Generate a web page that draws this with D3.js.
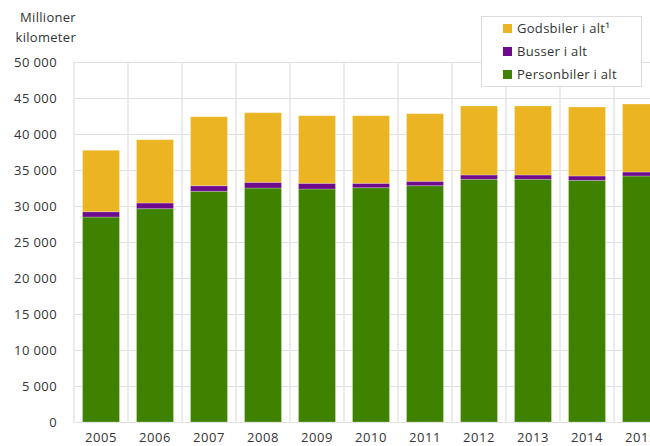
<!DOCTYPE html>
<html>
<head>
<meta charset="utf-8">
<script src="https://cdn.jsdelivr.net/npm/d3@7"></script>
<style>
  body { margin: 0; background: #fff; }
  text { font-family: "Open Sans", sans-serif; fill: #333; }
</style>
</head>
<body>
<div id="chart"></div>
<script>
var width = 650,
    height = 446;

// data (millioner kilometer)
var years = ["2005", "2006", "2007", "2008", "2009", "2010", "2011", "2012", "2013", "2014", "2015"];
var personbiler = [28470, 29630, 32040, 32500, 32360, 32540, 32820, 33710, 33710, 33560, 34170];
var busser = [740, 790, 780, 790, 790, 610, 610, 600, 600, 610, 550];
var godsbiler = [8530, 8790, 9580, 9670, 9390, 9390, 9390, 9580, 9580, 9580, 9450];
var yTicks = [0, 5000, 10000, 15000, 20000, 25000, 30000, 35000, 40000, 45000, 50000];

var seriesNames = ["Personbiler i alt", "Busser i alt", "Godsbiler i alt\u00b9"];
var colors = ["#3e8200", "#6e0a8c", "#ebb422"];

var rows = years.map(function (y, i) {
    return { year: y, p: personbiler[i], b: busser[i], g: godsbiler[i] };
});
var stack = d3.stack().keys(["p", "b", "g"])(rows);

var plotLeft = 74, plotTop = 62, plotBottom = 422;
var pad = 0.315;

var x = d3.scaleBand()
    .domain(years)
    .range([plotLeft, plotLeft + 54 * years.length])
    .paddingInner(pad)
    .paddingOuter(pad / 2);

var y = d3.scaleLinear()
    .domain([0, 50000])
    .range([plotBottom, plotTop]);

var svg = d3.select("#chart").append("svg")
    .attr("width", width)
    .attr("height", height);

var fmt = function (d) { return d3.format(",")(d).replace(/,/g, " "); };

// horizontal grid
svg.append("g").selectAll("line")
    .data(yTicks)
    .enter().append("line")
    .attr("x1", plotLeft).attr("x2", width)
    .attr("y1", function (d) { return Math.round(y(d)) + 0.5; })
    .attr("y2", function (d) { return Math.round(y(d)) + 0.5; })
    .attr("stroke", "#e0e0e0")
    .attr("stroke-width", 1);

// vertical grid at band edges
var step = x.step();
svg.append("g").selectAll("line")
    .data(years)
    .enter().append("line")
    .attr("x1", function (d) { return x(d) - step * pad / 2; })
    .attr("x2", function (d) { return x(d) - step * pad / 2; })
    .attr("y1", plotTop).attr("y2", plotBottom + 1)
    .attr("stroke", "#e6e6e6")
    .attr("stroke-width", 1.6);

// y tick labels
svg.append("g").selectAll("text")
    .data(yTicks)
    .enter().append("text")
    .attr("x", 57)
    .attr("y", function (d) { return y(d); })
    .attr("dy", "0.36em")
    .attr("text-anchor", "end")
    .style("font-size", "13px")
    .style("letter-spacing", "0.4px")
    .text(fmt);

// axis title
var title = svg.append("text")
    .attr("text-anchor", "end")
    .style("font-size", "13px")
    .style("letter-spacing", "0.3px");
title.append("tspan").attr("x", 76).attr("y", 22).text("Millioner");
title.append("tspan").attr("x", 76).attr("y", 42).text("kilometer");

// bars
svg.append("g").selectAll("g")
    .data(stack)
    .enter().append("g")
    .attr("fill", function (d, i) { return colors[i]; })
    .selectAll("rect")
    .data(function (d) { return d; })
    .enter().append("rect")
    .attr("x", function (d) { return x(d.data.year); })
    .attr("width", x.bandwidth())
    .attr("y", function (d) { return y(d[1]); })
    .attr("height", function (d) { return y(d[0]) - y(d[1]); })
    .attr("stroke", "#fff")
    .attr("stroke-opacity", 0.25)
    .attr("stroke-width", 1);

// x labels
svg.append("g").selectAll("text")
    .data(years)
    .enter().append("text")
    .attr("x", function (d) { return x(d) + x.bandwidth() / 2; })
    .attr("y", 442)
    .attr("text-anchor", "middle")
    .style("font-size", "13px")
    .style("letter-spacing", "0.6px")
    .text(function (d) { return d; });

// legend
var legend = svg.append("g");
legend.append("rect")
    .attr("x", 481.5).attr("y", 16.5)
    .attr("width", 160).attr("height", 70)
    .attr("fill", "#fff")
    .attr("stroke", "#dcdcdc");

var legendOrder = [2, 1, 0];
var item = legend.selectAll("g.item")
    .data(legendOrder)
    .enter().append("g")
    .attr("class", "item")
    .attr("transform", function (d, i) { return "translate(503," + (33 + i * 23) + ")"; });
item.append("rect")
    .attr("x", 0).attr("y", -9)
    .attr("width", 9).attr("height", 9)
    .attr("fill", function (d) { return colors[d]; });
item.append("text")
    .attr("x", 14).attr("y", 0)
    .style("font-size", "13px")
    .style("letter-spacing", "0.3px")
    .text(function (d) { return seriesNames[d]; });
</script>
</body>
</html>
